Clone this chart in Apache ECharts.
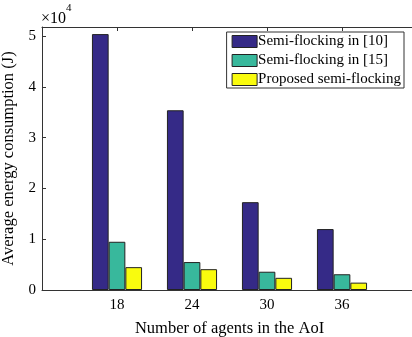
<!DOCTYPE html>
<html><head><meta charset="utf-8">
<script src="https://cdn.jsdelivr.net/npm/echarts@6/dist/echarts.min.js"></script>
<style>html,body{margin:0;padding:0;background:#fff;overflow:hidden;width:412px;height:337px}#c{width:418px;height:337px}</style>
</head><body><div id="c"></div>
<script>
const categories = ['', '18', '24', '30', '36', ''];
const seriesNames = ['Semi-flocking in [10]', 'Semi-flocking in [15]', 'Proposed semi-flocking'];
const s10 = [null, 5.04, 3.54, 1.73, 1.20, null];
const s15 = [null, 0.95, 0.55, 0.36, 0.31, null];
const proposed = [null, 0.45, 0.41, 0.24, 0.145, null];
const yTicks = [0, 1, 2, 3, 4, 5];
const colors = ['#352a87', '#38b89c', '#f9fb0e'];
const FONT = '"Liberation Serif", "DejaVu Serif", serif';

const chart = echarts.init(document.getElementById('c'), null, {renderer: 'canvas'});
const mk = (name, data, color) => ({
  name, type: 'bar', data, barWidth: 16.7, barGap: '0%',
  itemStyle: {color, borderColor: '#222', borderWidth: 1}, z: 2
});
const innerTicks = (i) => i > 0 && i < categories.length - 1;
chart.setOption({
  animation: false,
  textStyle: {fontFamily: FONT},
  grid: {left: 42, right: 1, top: 27, bottom: 47, containLabel: false, outerBoundsMode: 'none'},
  legend: {
    show: true, right: 14, top: 32, orient: 'vertical', itemGap: 4,
    itemWidth: 25, itemHeight: 12, icon: 'rect', padding: [2, 3, 1, 5],
    borderColor: '#333', borderWidth: 1, backgroundColor: '#fff',
    textStyle: {fontFamily: FONT, fontSize: 15, color: '#000', padding: [0, 0, 0, -4]},
    data: seriesNames.map((n) => ({name: n, itemStyle: {borderColor: '#222', borderWidth: 1}}))
  },
  xAxis: [{
    type: 'category', data: categories, boundaryGap: false, position: 'bottom',
    name: 'Number of agents in the AoI', nameLocation: 'middle', nameGap: 30,
    nameTextStyle: {fontFamily: FONT, fontSize: 16.5, color: '#000'},
    axisLine: {lineStyle: {color: '#333', width: 1}},
    axisTick: {show: true, inside: true, length: 4, interval: innerTicks, lineStyle: {color: '#333'}},
    axisLabel: {fontFamily: FONT, fontSize: 15, color: '#000', margin: 8},
    splitLine: {show: false}
  }, {
    type: 'category', data: categories, boundaryGap: false, position: 'top',
    axisLine: {lineStyle: {color: '#333', width: 1}},
    axisTick: {show: true, inside: true, length: 4, interval: innerTicks, lineStyle: {color: '#333'}},
    axisLabel: {show: false}, splitLine: {show: false}
  }],
  yAxis: {
    type: 'value', min: 0, max: 5.18, interval: 1,
    name: 'Average energy consumption (J)', nameLocation: 'middle', nameGap: 19,
    nameTextStyle: {fontFamily: FONT, fontSize: 16.5, color: '#000'},
    axisLine: {show: true, lineStyle: {color: '#333', width: 1}},
    axisTick: {show: true, inside: true, length: 4, lineStyle: {color: '#333'}},
    axisLabel: {fontFamily: FONT, fontSize: 15, color: '#000', margin: 6,
      formatter: (v) => (yTicks.indexOf(v) >= 0 ? String(v) : '')},
    splitLine: {show: false}
  },
  graphic: [{
    type: 'text', left: 41, top: 3,
    style: {
      text: '{a|×10}{b|4}',
      rich: {
        a: {fontFamily: FONT, fontSize: 16, fill: '#000', padding: [8, 0, 0, 0]},
        b: {fontFamily: FONT, fontSize: 11, fill: '#000', verticalAlign: 'top'}
      }
    }
  }],
  series: [mk(seriesNames[0], s10, colors[0]), mk(seriesNames[1], s15, colors[1]), mk(seriesNames[2], proposed, colors[2])]
});
</script></body></html>
